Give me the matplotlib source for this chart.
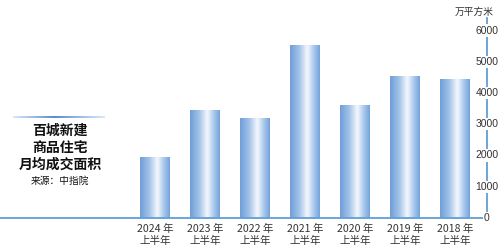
import numpy as np
import matplotlib
matplotlib.use("Agg")
from matplotlib import pyplot as plt
from matplotlib.colors import LinearSegmentedColormap

plt.rcParams['font.family'] = ['Noto Sans CJK SC', 'DejaVu Sans']

# data (万平方米, monthly average, first half of year)
years = ["2024", "2023", "2022", "2021", "2020", "2019", "2018"]
area = [1940, 3450, 3190, 5530, 3600, 4540, 4440]
y_ticks = [0, 1000, 2000, 3000, 4000, 5000, 6000]
title_lines = ["百城新建", "商品住宅", "月均成交面积"]
source = "来源：中指院"
unit = "万平方米"

W, H = 500, 247
AXIS_BLUE = "#5f9fd8"
TEXT = "#333333"

# cylinder-like horizontal gradient for the bars
bar_cmap = LinearSegmentedColormap.from_list("bar", [
    (0.00, (0.44, 0.62, 0.85)),
    (0.30, (0.63, 0.76, 0.91)),
    (0.58, (0.96, 0.97, 0.99)),
    (0.80, (0.67, 0.79, 0.93)),
    (1.00, (0.46, 0.64, 0.86)),
])
grad = np.linspace(0, 1, 64).reshape(1, -1)

fig = plt.figure(figsize=(W / 100, H / 100), dpi=100)
base_y = 218
top_y = 18
ax = fig.add_axes([0, 1 - base_y / H, 487 / W, (base_y - top_y) / H])

bar_w = 0.6
for i, v in enumerate(area):
    ax.imshow(grad, cmap=bar_cmap, aspect="auto", interpolation="bicubic",
              extent=[i - bar_w / 2, i + bar_w / 2, 0, v], zorder=2)
ax.set_xlim(-3.1, 6.64)
ax.set_ylim(0, 6400)

for s in ["left", "top"]:
    ax.spines[s].set_visible(False)
for s in ["bottom", "right"]:
    ax.spines[s].set_color(AXIS_BLUE)
    ax.spines[s].set_linewidth(1.3)

ax.set_yticks([])
ax.set_xticks(range(len(years)))
ax.set_xticklabels([f"{y} 年\n上半年" for y in years], fontsize=7.6, color=TEXT,
                   linespacing=1.2)
ax.tick_params(axis="x", length=0, pad=4.5)

# y tick labels sit on the axis line with a white backing
ytrans = ax.get_yaxis_transform()
for t in y_ticks:
    ax.text(1.0, t, str(t), transform=ytrans, ha="center", va="center",
            fontsize=7.5, family="Liberation Sans", color=TEXT, zorder=5,
            bbox=dict(facecolor="white", edgecolor="none", pad=0.8),
            clip_on=False)

fig.text(474 / W, 1 - 12 / H, unit, ha="center", va="center", fontsize=7,
         color=TEXT)

# title block on the left
deco = fig.add_axes([13 / W, 1 - 118.5 / H, 92 / W, 2.2 / H])
deco_cmap = LinearSegmentedColormap.from_list("deco", [
    (0.0, (0.85, 0.91, 0.97)),
    (0.45, (0.35, 0.55, 0.82)),
    (1.0, (0.85, 0.91, 0.97)),
])
deco.imshow(grad, cmap=deco_cmap, aspect="auto", extent=[0, 1, 0, 1])
deco.axis("off")

for k, line in enumerate(title_lines):
    fig.text(60 / W, 1 - (131 + 17 * k) / H, line, ha="center", va="center",
             fontsize=10, fontweight="bold", color="#111111")
fig.text(60 / W, 1 - 181 / H, source, ha="center", va="center",
         fontsize=7, color="#111111")

fig.savefig("out.png", dpi=100)
